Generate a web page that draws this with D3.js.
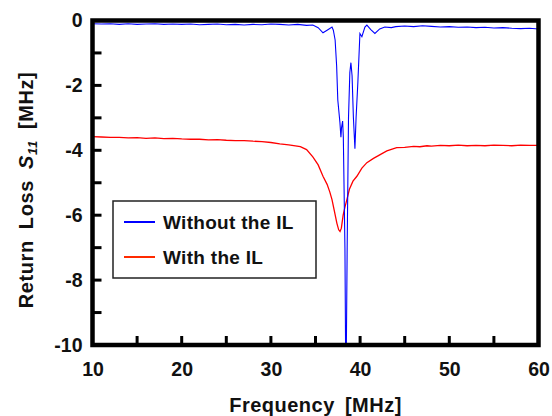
<!DOCTYPE html>
<html><head><meta charset="utf-8">
<script src="https://cdn.jsdelivr.net/npm/d3@7"></script>
<style>body{margin:0;background:#fff}svg{display:block}text{font-family:"Liberation Sans",Arial,sans-serif;font-weight:bold;fill:#111}</style>
</head><body><svg id="c" width="552" height="416"></svg>
<script>
const xTickValues = [10,20,30,40,50,60];
const xMinorTicks = [15,20,25,30,35,40,45,50,55];
const yTickValues = [0,-2,-4,-6,-8,-10];
const yMinorTicks = [-1,-2,-3,-4,-5,-6,-7,-8,-9];
const seriesNames = ["Without the IL","With the IL"];
const seriesColors = ["#0000ff","#ff2a00"];

const freqBlue = [10,11,12,13,14,15,16,17,18,19,20,21,22,23,24,25,26,27,28,29,30,31,32,33,34,34.7,35.3,35.84,36.3,36.85,37.0,37.2,37.37,37.5,37.74,37.85,37.92,38.04,38.12,38.3,38.38,38.45,38.55,38.7,38.85,38.97,39.1,39.25,39.42,39.55,39.75,39.98,40.2,40.54,40.76,41.2,41.66,42.2,42.77,43.5,44,45,46,47,48,49,50,51,52,53,54,55,56,57,58,59,60];
const lossBlue = [-0.10,-0.11,-0.10,-0.12,-0.10,-0.12,-0.11,-0.10,-0.12,-0.11,-0.12,-0.11,-0.13,-0.12,-0.11,-0.13,-0.12,-0.14,-0.12,-0.13,-0.11,-0.12,-0.14,-0.12,-0.15,-0.14,-0.22,-0.38,-0.30,-0.20,-0.30,-0.60,-1.40,-2.45,-3.15,-3.60,-3.30,-3.10,-3.60,-7.0,-10.4,-10.4,-7.0,-3.0,-1.6,-1.30,-1.70,-3.0,-3.95,-3.0,-1.9,-0.40,-0.50,-0.20,-0.14,-0.28,-0.40,-0.26,-0.20,-0.22,-0.19,-0.17,-0.19,-0.16,-0.18,-0.20,-0.19,-0.21,-0.20,-0.22,-0.21,-0.23,-0.22,-0.24,-0.25,-0.24,-0.26];

const freqRed = [10,11,12,13,14,15,16,17,18,19,20,21,22,23,24,25,26,27,28,29,30,31,32,33.3,34,34.7,35.3,35.84,36.3,36.6,36.85,37.1,37.4,37.6,37.75,37.9,38.1,38.3,38.52,38.8,39.2,39.64,40.2,40.76,41.5,42.2,43,44.1,45,46,46.7,47.5,48,49,50,51,52,53,54,55,56,57,58,59,60];
const lossRed = [-3.58,-3.59,-3.60,-3.60,-3.62,-3.61,-3.63,-3.62,-3.64,-3.63,-3.65,-3.66,-3.66,-3.68,-3.67,-3.69,-3.70,-3.70,-3.72,-3.73,-3.76,-3.80,-3.83,-3.89,-3.98,-4.20,-4.45,-4.80,-5.05,-5.28,-5.52,-5.85,-6.25,-6.45,-6.50,-6.40,-6.00,-5.75,-5.52,-5.20,-4.95,-4.80,-4.55,-4.38,-4.25,-4.14,-4.02,-3.92,-3.91,-3.88,-3.89,-3.86,-3.87,-3.85,-3.86,-3.84,-3.86,-3.85,-3.86,-3.84,-3.85,-3.86,-3.84,-3.85,-3.85];

const svg = d3.select("#c");
const L=92.5, R=538.5, T=20.5, B=345;
const x = d3.scaleLinear().domain([10,60]).range([L,R]);
const y = d3.scaleLinear().domain([-10,0]).range([B,T]);

svg.append("defs").append("clipPath").attr("id","clip").append("rect")
  .attr("x",L).attr("y",T).attr("width",R-L).attr("height",B-T);

const line = d3.line().x(d=>x(d[0])).y(d=>y(d[1]));
const g = svg.append("g").attr("clip-path","url(#clip)");
g.append("path").datum(d3.zip(freqRed,lossRed)).attr("d",line)
  .attr("fill","none").attr("stroke","#ff0000").attr("stroke-width",1.3);
g.append("path").datum(d3.zip(freqBlue,lossBlue)).attr("d",line)
  .attr("fill","none").attr("stroke","#0000ff").attr("stroke-width",1.1);

// inward ticks
svg.append("g").selectAll("line").data(yMinorTicks).join("line")
  .attr("x1",L).attr("x2",L+9).attr("y1",d=>y(d)).attr("y2",d=>y(d))
  .attr("stroke","#000").attr("stroke-width",3);
svg.append("g").selectAll("line").data(xMinorTicks).join("line")
  .attr("x1",d=>x(d)).attr("x2",d=>x(d)).attr("y1",B).attr("y2",B-9)
  .attr("stroke","#000").attr("stroke-width",3);

// tick labels via d3 axes
const ax = svg.append("g").attr("transform",`translate(0,${B})`)
  .call(d3.axisBottom(x).tickValues(xTickValues).tickSize(0).tickPadding(17).tickFormat(d=>String(d)));
const ay = svg.append("g").attr("transform",`translate(${L},0)`)
  .call(d3.axisLeft(y).tickValues(yTickValues).tickSize(0).tickPadding(10).tickFormat(d=>String(d)));
[ax,ay].forEach(a=>{a.select(".domain").remove();
  a.selectAll("text").attr("font-size",19.5).attr("font-family","Liberation Sans, Arial, sans-serif").attr("font-weight","bold").attr("fill","#111");});

// frame
svg.append("rect").attr("x",L).attr("y",T).attr("width",R-L).attr("height",B-T)
  .attr("fill","none").attr("stroke","#000").attr("stroke-width",4.5);

// legend
const lg = svg.append("g");
lg.append("rect").attr("x",113).attr("y",201).attr("width",203).attr("height",77)
  .attr("fill","#fff").attr("stroke","#222").attr("stroke-width",1.5);
seriesNames.forEach((n,i)=>{
  const yy = 222 + i*35;
  lg.append("line").attr("x1",124).attr("x2",155).attr("y1",yy).attr("y2",yy)
    .attr("stroke",seriesColors[i]).attr("stroke-width",2);
  lg.append("text").attr("x",163).attr("y",yy+7).attr("font-size",19).attr("letter-spacing",0.3).text(n);
});

// axis titles
svg.append("text").attr("x",(L+R)/2).attr("y",412).attr("text-anchor","middle")
  .attr("font-size",20).attr("letter-spacing",0.5).attr("word-spacing",4).text("Frequency [MHz]");
const yt = svg.append("text").attr("transform",`translate(33,190) rotate(-90)`)
  .attr("text-anchor","middle").attr("font-size",20).attr("letter-spacing",0.6).attr("word-spacing",5);
yt.append("tspan").text("Return Loss ");
yt.append("tspan").attr("font-style","italic").text("S");
yt.append("tspan").attr("font-style","italic").attr("font-size",13).attr("dy",4).text("11");
yt.append("tspan").attr("dy",-4).text(" [MHz]");
</script></body></html>
